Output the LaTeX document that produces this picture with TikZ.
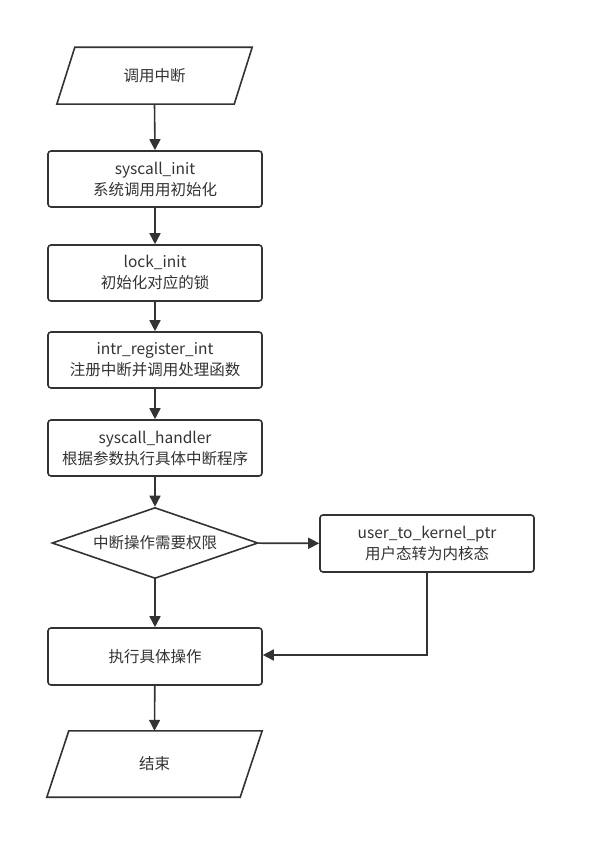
\documentclass[tikz,border=0pt]{standalone}
\usepackage{fontspec}
\setmainfont{Noto Sans CJK SC}
\usetikzlibrary{arrows.meta,shapes.geometric}
\definecolor{ink}{HTML}{333333}
\begin{document}
\begin{tikzpicture}[x=1pt,y=-1pt,
  every node/.style={font=\fontsize{15.5}{21}\selectfont, text=ink, align=center},
  procbox/.style={draw=ink, line width=1.6pt, rounded corners=3pt, minimum width=214pt, minimum height=56pt, inner sep=0pt},
  ghost/.style={draw=none, inner sep=0pt},
  decide/.style={draw=ink, line width=1.6pt, diamond, aspect=2.9, minimum width=206pt, minimum height=71pt, inner sep=0pt},
  outline/.style={draw=ink, line width=1.6pt, line join=miter},
  flow/.style={draw=ink, line width=1.6pt, -{Triangle[length=11pt,width=11pt]}}
]
\useasboundingbox (0,0) rectangle (595,858);
% start parallelogram
\node[ghost, minimum width=195pt, minimum height=56.5pt] (start) at (154.5,75.75) {调用中断};
\draw[outline] ([xshift=18pt]start.north west) -- (start.north east) -- ([xshift=-18pt]start.south east) -- (start.south west) -- cycle;
\node[procbox] (r1) at (155,179) {syscall\_init\\系统调用用初始化};
\node[procbox] (r2) at (155,273) {lock\_init\\初始化对应的锁};
\node[procbox] (r3) at (155,360) {intr\_register\_int\\注册中断并调用处理函数};
\node[procbox] (r4) at (155,448) {syscall\_handler\\根据参数执行具体中断程序};
\node[decide] (d) at (155,543) {中断操作需要权限};
\node[procbox, minimum height=57pt] (u) at (427,543.5) {user\_to\_kernel\_ptr\\用户态转为内核态};
\node[procbox, minimum height=57pt] (r5) at (155,656.5) {执行具体操作};
% end parallelogram
\node[ghost, minimum width=215pt, minimum height=66pt] (stop) at (154.5,764) {结束};
\draw[outline] ([xshift=22pt]stop.north west) -- (stop.north east) -- ([xshift=-22pt]stop.south east) -- (stop.south west) -- cycle;
% connectors
\draw[flow] (start.south) -- (r1.north);
\draw[flow] (r1) -- (r2);
\draw[flow] (r2) -- (r3);
\draw[flow] (r3) -- (r4);
\draw[flow] (r4) -- (d);
\draw[flow] (d) -- (u);
\draw[flow] (d) -- (r5);
\draw[flow] (u.south) |- ([yshift=1.5pt]r5.east);
\draw[flow] (r5) -- (stop.north);
\end{tikzpicture}
\end{document}
